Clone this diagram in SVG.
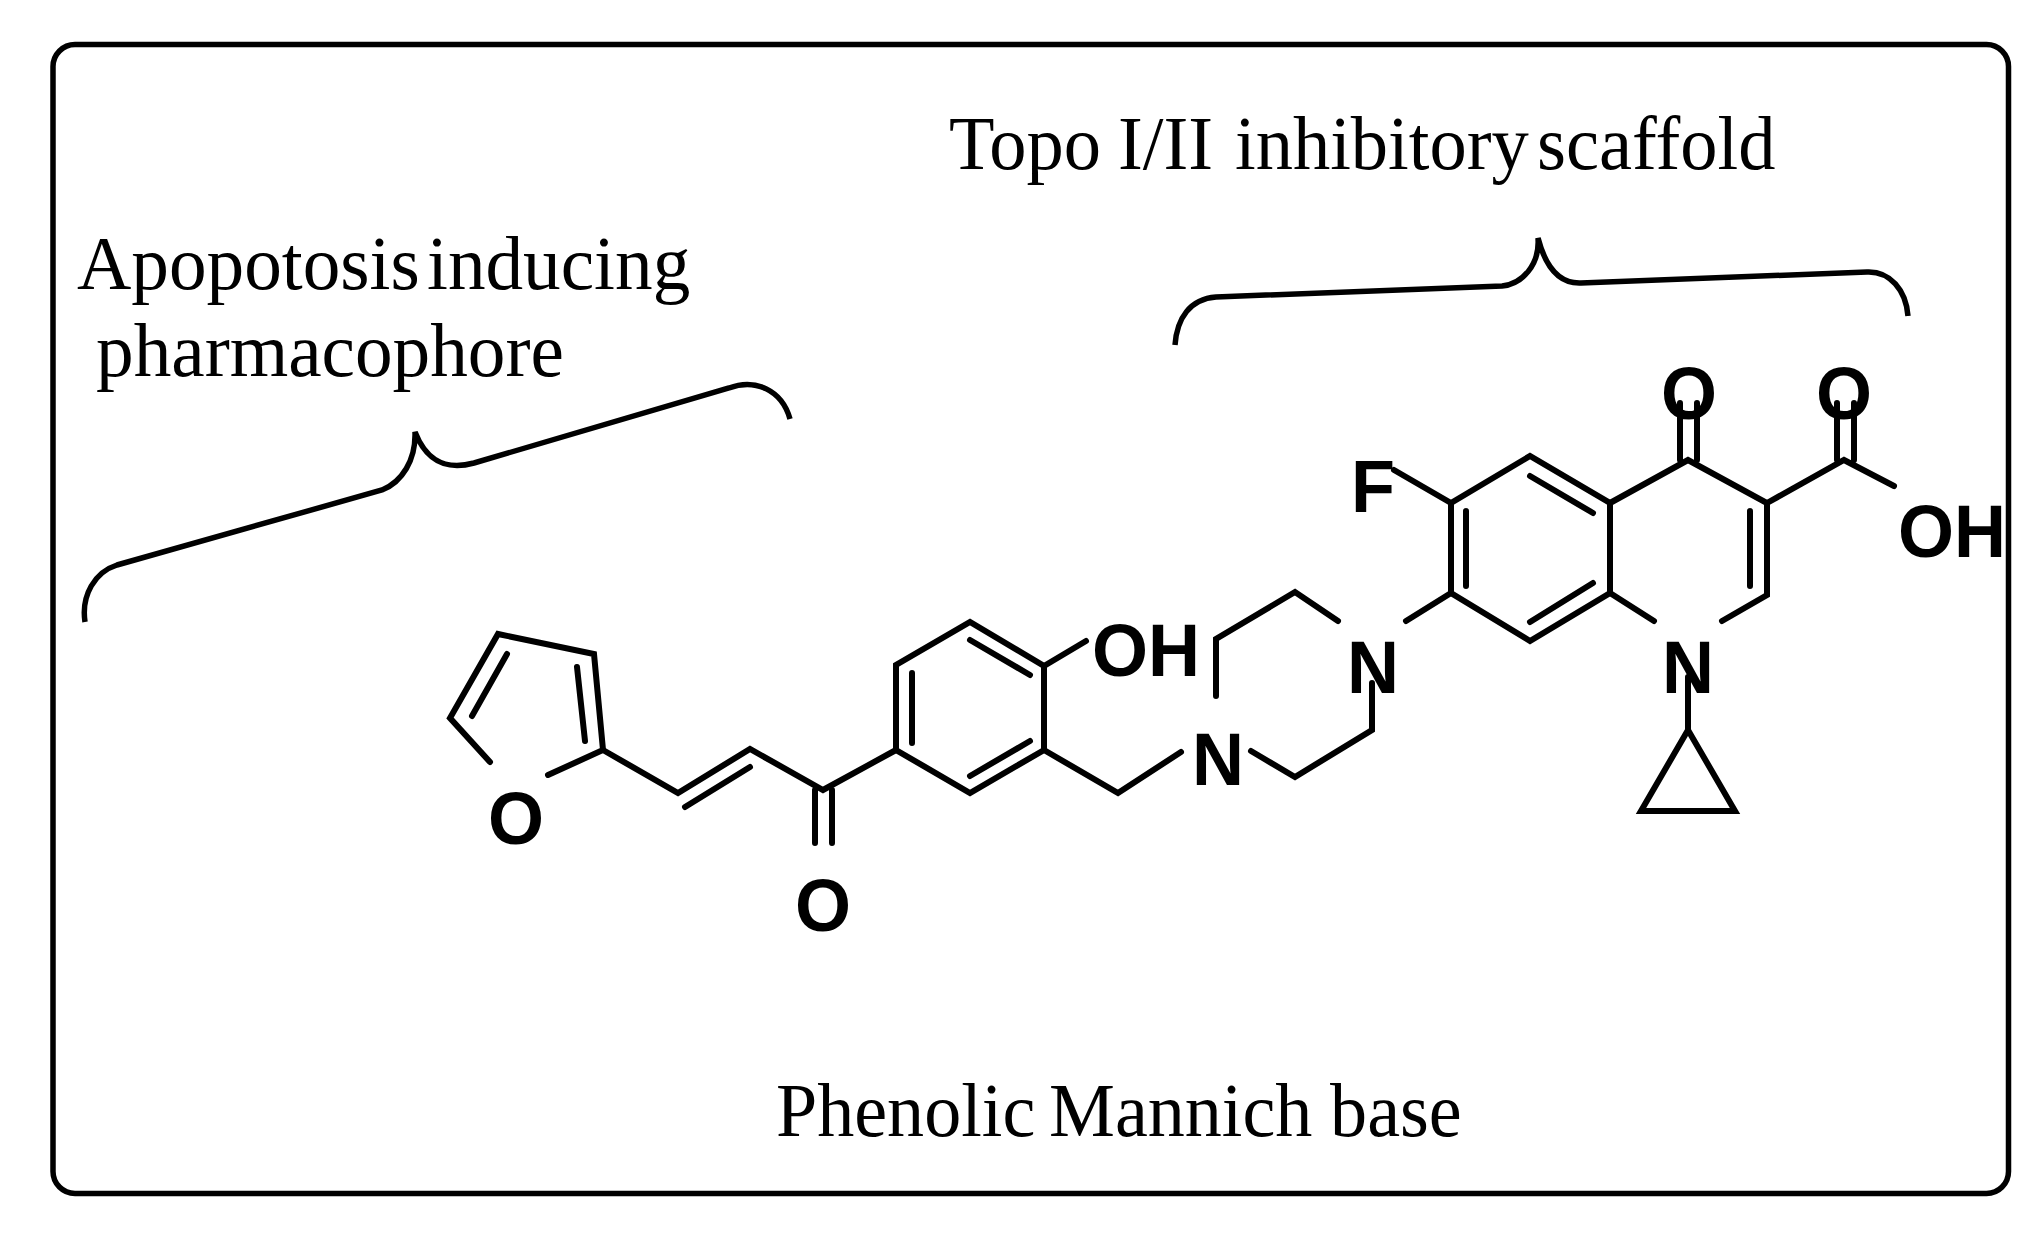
<svg xmlns="http://www.w3.org/2000/svg" width="2044" height="1242" viewBox="0 0 2044 1242">
<style>
.bond{fill:none;stroke:#000;stroke-width:6;stroke-linecap:round;stroke-linejoin:miter}
.brace{fill:none;stroke:#000;stroke-width:5.5;stroke-linecap:butt}
.atom{font-family:"Liberation Sans",Arial,sans-serif;font-weight:700;font-size:75px;fill:#000}
.label{font-family:"Liberation Serif","Times New Roman",serif;font-size:76px;fill:#000}
</style>
<rect width="2044" height="1242" fill="#fff"/>
<g id="frame"><rect x="53" y="44.5" width="1955.5" height="1149" rx="22" ry="22" fill="none" stroke="#000" stroke-width="5.5"/></g>
<g id="connectors">
<path class="bond" d="M490 762L450 718L498 634L594 654L603 750L548 775"/>
<path class="bond" d="M507 654L472 716M577 667L585 741"/>
<path class="bond" d="M603 750L678 793L750 749L823 790L896 750"/>
<path class="bond" d="M685 807L750 767M815 790V843M832 790V843"/>
<path class="bond" d="M896 750V665L970 622L1044 666V750L970 793Z"/>
<path class="bond" d="M912 673V743M970 640L1030 675M1030 741L970 776"/>
<path class="bond" d="M1044 666L1086 641M1044 750L1118 793L1181 752"/>
<path class="bond" d="M1251 751L1295 777L1372 730V683M1338 621L1295 592L1216 639V696"/>
<path class="bond" d="M1406 621L1451 593"/>
<path class="bond" d="M1451 503L1530 456L1610 503V593L1530 641L1451 593Z"/>
<path class="bond" d="M1466 511V586M1530 476L1593 513M1593 583L1530 622"/>
<path class="bond" d="M1394 470L1451 503"/>
<path class="bond" d="M1610 503L1688 460L1767 503V595L1722 621M1610 593L1654 621"/>
<path class="bond" d="M1750 511V586M1680 460V403M1697 460V403"/>
<path class="bond" d="M1767 503L1844 460L1894 486M1837 460V403M1854 460V403"/>
<path class="bond" d="M1688 677V730L1641 811H1735L1688 730"/>
</g>
<g id="brace-left"><path class="brace" d="M85 622C81 595 95 572 117 565L382 490C402 482 416 460 415 432C424 455 440 472 474 463L729 388C755 378 782 390 790 419"/></g>
<g id="brace-top"><path class="brace" d="M1175 345C1177 318 1190 299 1216 297L1502 286C1522 284 1540 265 1538 238C1545 265 1558 284 1581 283L1867 272C1890 271 1906 290 1908 316"/></g>
<g id="atom-o-furan"><text class="atom" x="488" y="844" textLength="56" lengthAdjust="spacingAndGlyphs">O</text></g>
<g id="atom-o-ketone"><text class="atom" x="795" y="931" textLength="56" lengthAdjust="spacingAndGlyphs">O</text></g>
<g id="atom-oh-phenol"><text class="atom" x="1092" y="676" textLength="108" lengthAdjust="spacingAndGlyphs">OH</text></g>
<g id="atom-n-mannich"><text class="atom" x="1192" y="785" textLength="52" lengthAdjust="spacingAndGlyphs">N</text></g>
<g id="atom-n-piperazine"><text class="atom" x="1347" y="693" textLength="52" lengthAdjust="spacingAndGlyphs">N</text></g>
<g id="atom-f"><text class="atom" x="1351" y="512" textLength="44" lengthAdjust="spacingAndGlyphs">F</text></g>
<g id="atom-n-quinolone"><text class="atom" x="1662" y="693" textLength="52" lengthAdjust="spacingAndGlyphs">N</text></g>
<g id="atom-o-quinolone"><text class="atom" x="1661" y="419" textLength="56" lengthAdjust="spacingAndGlyphs">O</text></g>
<g id="atom-o-acid"><text class="atom" x="1816" y="419" textLength="56" lengthAdjust="spacingAndGlyphs">O</text></g>
<g id="atom-oh-acid"><text class="atom" x="1898" y="557" textLength="108" lengthAdjust="spacingAndGlyphs">OH</text></g>
<g id="label-topo"><text class="label" y="169" transform="scale(.98 1)"><tspan x="968.4">Topo </tspan><tspan x="1140.8">I/II </tspan><tspan x="1260.2">inhibitory </tspan><tspan x="1568.4">scaffold</tspan></text></g>
<g id="label-apoptosis"><text class="label" y="289" transform="scale(.99 1)"><tspan x="77.8">Apopotosis </tspan><tspan x="431.3">inducing</tspan></text><text class="label" x="97" y="376" transform="scale(.99 1)">pharmacophore</text></g>
<g id="label-mannich"><text class="label" y="1136" transform="scale(.975 1)"><tspan x="795.9">Phenolic </tspan><tspan x="1075.9">Mannich </tspan><tspan x="1364.2">base</tspan></text></g>
</svg>
